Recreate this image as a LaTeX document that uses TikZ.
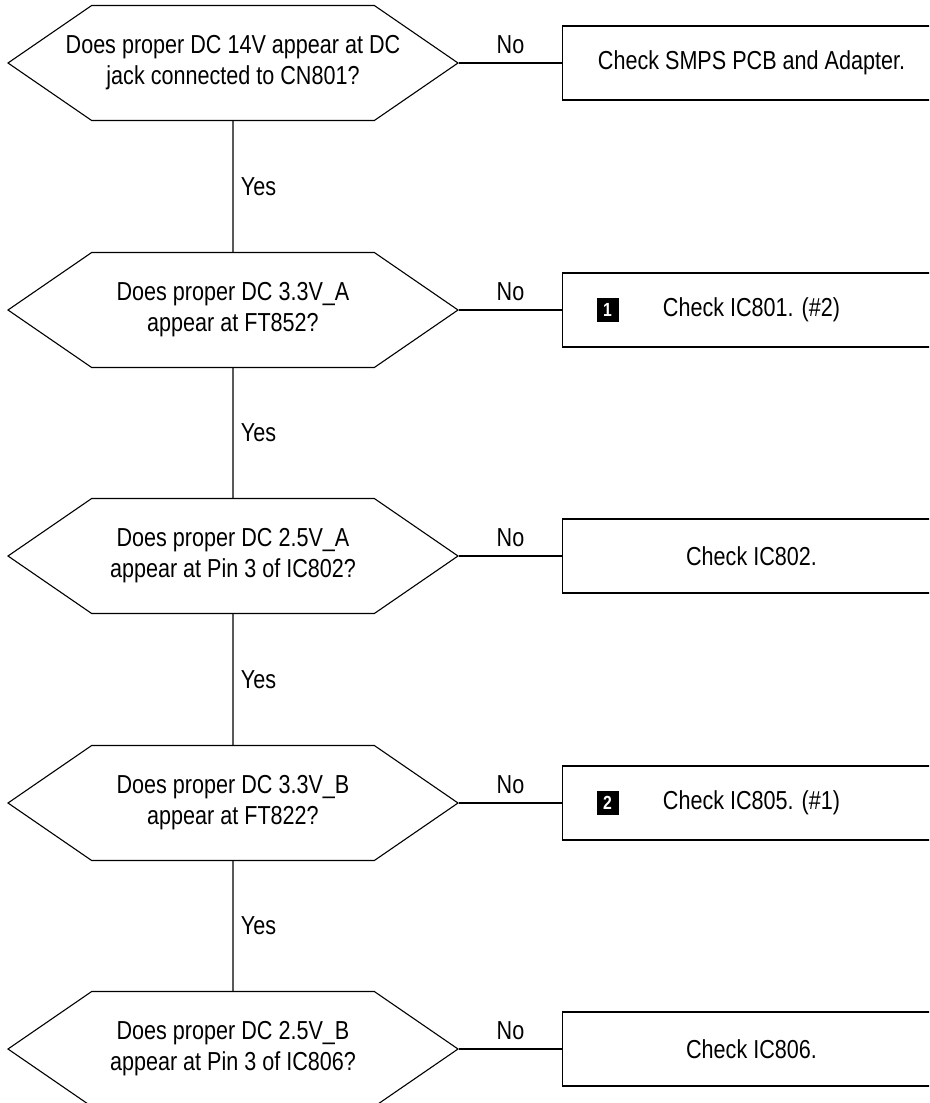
\documentclass[tikz,border=0pt]{standalone}
\usepackage{fontspec}
\setmainfont{Liberation Sans}[FakeStretch=0.83]
\usetikzlibrary{shapes.symbols,positioning}
\begin{document}
\begin{tikzpicture}[x=1pt,y=-1pt,line width=1.1pt,
	every node/.style={font=\fontsize{26}{31}\selectfont},
	query/.style={signal,signal to=west and east,signal pointer angle=69,draw,
		align=center,minimum width=450pt,minimum height=115pt,inner ysep=0pt,inner xsep=-40pt},
	action/.style={draw,minimum width=378pt,minimum height=74pt,align=center},
	badge/.style={fill=black,text=white,font=\fontsize{19}{19}\bfseries\selectfont,
		minimum width=22pt,minimum height=24pt,inner sep=0pt}]
\path[use as bounding box,clip] (0,0) rectangle (929,1103);
% questions
\node[query] (q1) at (233,63) {Does proper DC 14V appear at DC\\jack connected to CN801?};
\node[query] (q2) at (233,310) {Does proper DC 3.3V\_A\\appear at FT852?};
\node[query] (q3) at (233,556) {Does proper DC 2.5V\_A\\appear at Pin 3 of IC802?};
\node[query] (q4) at (233,803) {Does proper DC 3.3V\_B\\appear at FT822?};
\node[query] (q5) at (233,1049) {Does proper DC 2.5V\_B\\appear at Pin 3 of IC806?};
% actions
\node[action,right=103pt of q1] (a1) {Check SMPS PCB and Adapter.};
\node[action,right=103pt of q2] (a2) {Check IC801. (\#2)};
\node[action,right=103pt of q3] (a3) {Check IC802.};
\node[action,right=103pt of q4] (a4) {Check IC805. (\#1)};
\node[action,right=103pt of q5] (a5) {Check IC806.};
\node[badge,right=34pt of a2.west] (b1) {1};
\node[badge,right=34pt of a4.west] (b2) {2};
% links
\draw (q1) -- node[right=4pt] {Yes} (q2);
\draw (q2) -- node[right=4pt] {Yes} (q3);
\draw (q3) -- node[right=4pt] {Yes} (q4);
\draw (q4) -- node[right=4pt] {Yes} (q5);
\draw (q1.east) -- node[above=5pt] {No} (a1.west);
\draw (q2.east) -- node[above=5pt] {No} (a2.west);
\draw (q3.east) -- node[above=5pt] {No} (a3.west);
\draw (q4.east) -- node[above=5pt] {No} (a4.west);
\draw (q5.east) -- node[above=5pt] {No} (a5.west);
\end{tikzpicture}
\end{document}
